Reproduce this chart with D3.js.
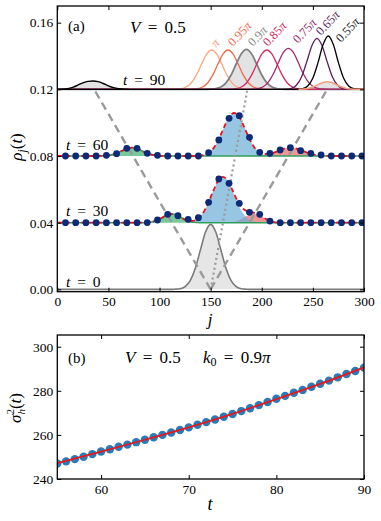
<!DOCTYPE html>
<html>
<head>
<meta charset="utf-8">
<script src="https://cdn.jsdelivr.net/npm/d3@7"></script>
<style>
body { margin: 0; background: #fff; }
text { font-family: "Liberation Serif", "DejaVu Serif", serif; }
</style>
</head>
<body>
<svg id="chart" width="381" height="521"></svg>
<script>
// ---- data: panel (a) ----
var rowTimes = [0, 30, 60, 90];
var rowOffsets = [0, 0.04, 0.08, 0.12];
var xTicksA = [0, 50, 100, 150, 200, 250, 300];
var yTicksA = [0, 0.04, 0.08, 0.12, 0.16];

// t = 0 initial packet
var packet0 = [[0,0],[110,0],[115,0.0001],[120,0.0004],[125,0.0017],[130,0.0053],[135,0.0127],[140,0.0237],[145,0.0344],[150,0.039],[155,0.0344],[160,0.0237],[165,0.0127],[170,0.0053],[175,0.0017],[180,0.0004],[185,0.0001],[190,0],[300,0]];

// t = 30 components (above offset)
var green30 = [[0,0],[82,0],[87,0.0001],[92,0.0004],[97,0.0013],[102,0.0028],[107,0.0045],[112,0.0052],[117,0.0045],[122,0.0028],[127,0.0013],[132,0.0004],[137,0.0001],[142,0],[300,0]];
var blue30 = [[127,0],[132,0.0007],[137,0.0021],[142,0.0053],[147,0.0109],[152,0.0182],[157,0.0248],[162,0.0275],[167,0.0248],[172,0.0182],[177,0.0109],[182,0.0053],[187,0.0021],[192,0.0007],[197,0]];
var red30 = [[162,0],[167,0.0001],[172,0.0004],[177,0.0013],[182,0.0029],[187,0.0045],[192,0.0053],[197,0.0045],[202,0.0029],[207,0.0013],[212,0.0004],[217,0.0001],[222,0]];
var total30 = [[0,0],[82,0],[87,0.0001],[92,0.0004],[97,0.0013],[102,0.0028],[107,0.0045],[112,0.0052],[117,0.0045],[122,0.0028],[127,0.0013],[132,0.0011],[137,0.0022],[142,0.0053],[147,0.0109],[152,0.0182],[157,0.0248],[162,0.0275],[167,0.0249],[172,0.0186],[177,0.0122],[182,0.0082],[187,0.0066],[192,0.006],[197,0.0045],[202,0.0029],[207,0.0013],[212,0.0004],[217,0.0001],[222,0],[300,0]];

// t = 60 components
var green60 = [[0,0],[38,0],[43,0.0001],[48,0.0002],[53,0.0007],[58,0.0016],[63,0.003],[68,0.0044],[73,0.005],[78,0.0044],[83,0.003],[88,0.0016],[93,0.0007],[98,0.0002],[103,0.0001],[108,0],[300,0]];
var blue60 = [[133,0],[138,0.0002],[143,0.0006],[148,0.002],[153,0.0049],[158,0.0102],[163,0.0171],[168,0.0233],[173,0.0258],[178,0.0233],[183,0.0171],[188,0.0102],[193,0.0049],[198,0.002],[203,0.0006],[208,0.0002],[213,0]];
var red60 = [[188,0],[193,0.0001],[198,0.0002],[203,0.0006],[208,0.0012],[213,0.0023],[218,0.0035],[223,0.0046],[228,0.005],[233,0.0046],[238,0.0035],[243,0.0023],[248,0.0012],[253,0.0006],[258,0.0002],[263,0.0001],[268,0]];
var total60 = [[0,0],[38,0],[43,0.0001],[48,0.0002],[53,0.0007],[58,0.0016],[63,0.003],[68,0.0044],[73,0.005],[78,0.0044],[83,0.003],[88,0.0016],[93,0.0007],[98,0.0002],[103,0.0001],[108,0],[133,0],[138,0.0002],[143,0.0006],[148,0.002],[153,0.0049],[158,0.0102],[163,0.0171],[168,0.0233],[173,0.0258],[178,0.0233],[183,0.0171],[188,0.0102],[193,0.005],[198,0.0022],[203,0.0012],[208,0.0014],[213,0.0023],[218,0.0035],[223,0.0046],[228,0.005],[233,0.0046],[238,0.0035],[243,0.0023],[248,0.0012],[253,0.0006],[258,0.0002],[263,0.0001],[268,0],[300,0]];

// sampled sites (dots)
var dotSites = [8,18,28,38,48,58,68,78,88,98,108,118,128,138,148,158,168,178,188,198,208,218,228,238,248,258,268,278,288,298];
var dots30 = [0,0,0,0,0,0,0,0,0.0001,0.0016,0.005,0.0042,0.002,0.003,0.0122,0.0262,0.0236,0.0116,0.0062,0.005,0.001,0,0,0,0,0,0,0,0,0];
var dots60 = [0,0,0,0,0.0004,0.0014,0.0046,0.0046,0.0016,0.0004,0,0,0,0,0.002,0.0096,0.0226,0.0242,0.0112,0.0022,0.0016,0.0036,0.005,0.0032,0.0016,0.0006,0,0,0,0];

// t = 90, one packet per k0
var kLabels = ["\u03c0", "0.95\u03c0", "0.9\u03c0", "0.85\u03c0", "0.75\u03c0", "0.65\u03c0", "0.55\u03c0"];
var kPi = [[0,0],[111,0],[116,0.0001],[121,0.0004],[126,0.0014],[131,0.0038],[136,0.0085],[141,0.015],[146,0.0211],[151,0.0236],[156,0.0211],[161,0.015],[166,0.0085],[171,0.0038],[176,0.0014],[181,0.0004],[186,0.0001],[191,0],[300,0]];
var k095 = [[0,0],[127,0],[132,0.0001],[137,0.0004],[142,0.0014],[147,0.0038],[152,0.0085],[157,0.015],[162,0.0211],[167,0.0236],[172,0.0211],[177,0.015],[182,0.0085],[187,0.0038],[192,0.0014],[197,0.0004],[202,0.0001],[207,0],[300,0]];
var k09 = [[0,0],[145,0],[150,0.0001],[155,0.0004],[160,0.0014],[165,0.0039],[170,0.0086],[175,0.0152],[180,0.0214],[185,0.024],[190,0.0214],[195,0.0152],[200,0.0086],[205,0.0039],[210,0.0014],[215,0.0004],[220,0.0001],[225,0],[300,0]];
var k085 = [[0,0],[165,0],[170,0.0001],[175,0.0004],[180,0.0014],[185,0.0038],[190,0.0085],[195,0.015],[200,0.0211],[205,0.0236],[210,0.0211],[215,0.015],[220,0.0085],[225,0.0038],[230,0.0014],[235,0.0004],[240,0.0001],[245,0],[300,0]];
var k075 = [[0,0],[186,0],[191,0.0001],[196,0.0004],[201,0.0014],[206,0.004],[211,0.0089],[216,0.0156],[221,0.022],[226,0.0246],[231,0.022],[236,0.0156],[241,0.0089],[246,0.004],[251,0.0014],[256,0.0004],[261,0.0001],[266,0],[300,0]];
var k065 = [[0,0],[219,0],[224,0.0001],[229,0.0006],[234,0.0026],[239,0.0076],[244,0.0165],[249,0.0262],[254,0.0306],[259,0.0262],[264,0.0165],[269,0.0076],[274,0.0026],[279,0.0006],[284,0.0001],[289,0],[300,0]];
var k055 = [[0,0],[230,0],[235,0.0001],[240,0.0004],[245,0.002],[250,0.0068],[255,0.016],[260,0.0269],[265,0.032],[270,0.0269],[275,0.016],[280,0.0068],[285,0.002],[290,0.0004],[295,0.0001],[300,0]];
var bumpLeft90 = [[0,0],[5,0.0001],[10,0.0004],[15,0.0012],[20,0.0025],[25,0.0039],[30,0.0048],[35,0.005],[40,0.0046],[45,0.0035],[50,0.0021],[55,0.001],[60,0.0004],[65,0.0001],[70,0]];
var bumpRight90 = [[236,0],[241,0.0002],[246,0.0007],[251,0.0017],[256,0.0031],[260,0.0041],[264,0.0046],[268,0.0041],[272,0.0031],[277,0.0017],[282,0.0007],[287,0.0002],[292,0],[300,0]];

// light cone and peak trajectory
var coneLeft = [[150,0],[36,0.12]];
var coneRight = [[150,0],[264,0.12]];
var peakPath = [[150,0],[186,0.12]];

// ---- data: panel (b) ----
var tVals = [55,56,57,58,59,60,61,62,63,64,65,66,67,68,69,70,71,72,73,74,75,76,77,78,79,80,81,82,83,84,85,86,87,88,89,90];
var sigma2 = [247.0,248.0,249.0,250.1,251.3,252.5,253.5,254.6,255.6,256.7,257.8,258.9,260.0,261.1,262.2,263.4,264.6,265.8,267.0,268.2,269.5,270.8,272.1,273.5,274.9,276.4,277.7,279.1,280.4,281.8,283.2,284.6,286.1,287.6,289.0,290.5];
var fitT = [55,60,65,70,75,80,85,90];
var fitS = [247.2,252.4,257.8,263.4,269.5,276.2,283.1,290.6];
var xTicksB = [60, 70, 80, 90];
var yTicksB = [240, 260, 280, 300];

// ---- styles ----
var kColors = ["#f9a883", "#f06a4c", "#808080", "#d62b5d", "#a0296e", "#5c1d5c", "#000000"];
var kLabelColors = ["#f59a78", "#f06a4c", "#8a8a8a", "#d62b5d", "#a0296e", "#5c1d5c", "#222222"];
var kLabelPos = [[216,48],[233,47],[253,47],[268,47],[298,44],[321,36],[341,43]];
var serif = '"Liberation Serif", "DejaVu Serif", serif';

var svg = d3.select("#chart");

var xA = d3.scaleLinear().domain([0, 300]).range([57.3, 364]);
var yA = d3.scaleLinear().domain([-0.0014, 0.170]).range([291.7, 6]);
var xB = d3.scaleLinear().domain([55, 90]).range([57.3, 364]);
var yB = d3.scaleLinear().domain([240, 305.3]).range([479, 335]);

function lineAt(off) {
  return d3.line().x(function(d) { return xA(d[0]); })
    .y(function(d) { return yA(d[1] + off); }).curve(d3.curveMonotoneX);
}

function areaAt(off) {
  return d3.area().x(function(d) { return xA(d[0]); })
    .y0(yA(off)).y1(function(d) { return yA(d[1] + off); }).curve(d3.curveMonotoneX);
}

// clip paths
var defs = svg.append("defs");
defs.append("clipPath").attr("id", "clipA").append("rect")
  .attr("x", 57.3).attr("y", 6).attr("width", 364 - 57.3).attr("height", 291.7 - 6);
defs.append("clipPath").attr("id", "clipB").append("rect")
  .attr("x", 57.3).attr("y", 335).attr("width", 364 - 57.3).attr("height", 479 - 335);

var gA = svg.append("g").attr("clip-path", "url(#clipA)");

// t = 0
gA.append("path").attr("d", areaAt(rowOffsets[0])(packet0)).attr("fill", "#e6e6e6");
gA.append("path").attr("d", lineAt(rowOffsets[0])(packet0))
  .attr("fill", "none").attr("stroke", "#7a7a7a").attr("stroke-width", 1.6);

// t = 30, 60 decomposed densities
function drawRow(off, green, blue, red) {
  gA.append("path").attr("d", areaAt(off)(red)).attr("fill", "#ee7a7a").attr("fill-opacity", 0.8);
  gA.append("path").attr("d", areaAt(off)(blue)).attr("fill", "#6baed6").attr("fill-opacity", 0.7);
  gA.append("path").attr("d", areaAt(off)(green)).attr("fill", "#5fbf8a").attr("fill-opacity", 0.85);
  gA.append("path").attr("d", lineAt(off)(green))
    .attr("fill", "none").attr("stroke", "#2e9e5b").attr("stroke-width", 1.6);
}
drawRow(rowOffsets[1], green30, blue30, red30);
drawRow(rowOffsets[2], green60, blue60, red60);

// t = 90
var off90 = rowOffsets[3];
[bumpLeft90, k09, bumpRight90].forEach(function(d) {
  gA.append("path").attr("d", areaAt(off90)(d)).attr("fill", "#e3e3e3");
});
[kPi, k095, k09, k085, k075, k065, k055].forEach(function(d, i) {
  gA.append("path").attr("d", lineAt(off90)(d))
    .attr("fill", "none").attr("stroke", kColors[i]).attr("stroke-width", i == 2 ? 1.8 : 1.3);
});
gA.append("path").attr("d", lineAt(off90)(bumpLeft90))
  .attr("fill", "none").attr("stroke", "#000").attr("stroke-width", 1.4);
gA.append("path").attr("d", lineAt(off90)(bumpRight90))
  .attr("fill", "none").attr("stroke", "#f4a07e").attr("stroke-width", 1.5);

// light cone + peak trajectory
var straight = d3.line().x(function(d) { return xA(d[0]); }).y(function(d) { return yA(d[1]); });
[coneLeft, coneRight].forEach(function(d) {
  gA.append("path").attr("d", straight(d)).attr("fill", "none")
    .attr("stroke", "#9a9a9a").attr("stroke-width", 2.4).attr("stroke-dasharray", "8,5");
});
gA.append("path").attr("d", straight(peakPath)).attr("fill", "none")
  .attr("stroke", "#9a9a9a").attr("stroke-width", 2.2).attr("stroke-dasharray", "2,3");

// totals + sampled dots
[[total30, dots30, rowOffsets[1]], [total60, dots60, rowOffsets[2]]].forEach(function(r) {
  gA.append("path").attr("d", lineAt(r[2])(r[0])).attr("fill", "none")
    .attr("stroke", "#e8141c").attr("stroke-width", 1.8).attr("stroke-dasharray", "5,3");
  gA.selectAll(null).data(r[1]).enter().append("circle")
    .attr("cx", function(d, i) { return xA(dotSites[i]); })
    .attr("cy", function(d) { return yA(d + r[2]); })
    .attr("r", 3.4).attr("fill", "#0b2a78");
});

// k0 labels
kLabels.forEach(function(s, i) {
  var p = kLabelPos[i];
  var t = svg.append("text").attr("transform", "translate(" + p[0] + "," + p[1] + ") rotate(-47)")
    .attr("font-size", 12.5).attr("fill", kLabelColors[i]);
  var num = s.replace("\u03c0", "");
  if (num) t.append("tspan").text(num);
  t.append("tspan").attr("font-style", "italic").text("\u03c0");
});

// ---- frames and axes ----
function addAxes(x, y, xTicks, yTicks, yFmt) {
  var g = svg.append("g");
  var x0 = x.range()[0], x1 = x.range()[1], y0 = y.range()[0], y1 = y.range()[1];
  g.append("g").attr("transform", "translate(0," + y0 + ")")
    .call(d3.axisBottom(x).tickValues(xTicks).tickSizeInner(-4).tickSizeOuter(0).tickPadding(5).tickFormat(d3.format("d")));
  g.append("g").attr("transform", "translate(0," + y1 + ")")
    .call(d3.axisTop(x).tickValues(xTicks).tickSizeInner(-4).tickSizeOuter(0).tickFormat(""));
  g.append("g").attr("transform", "translate(" + x0 + ",0)")
    .call(d3.axisLeft(y).tickValues(yTicks).tickSizeInner(-4).tickSizeOuter(0).tickPadding(4).tickFormat(yFmt));
  g.append("g").attr("transform", "translate(" + x1 + ",0)")
    .call(d3.axisRight(y).tickValues(yTicks).tickSizeInner(-4).tickSizeOuter(0).tickFormat(""));
  g.selectAll(".domain").remove();
  g.selectAll(".tick line").attr("stroke", "#000").attr("stroke-width", 1);
  g.selectAll("text").style("font-family", serif).style("font-size", "13.5px").attr("fill", "#000");
  g.append("rect").attr("x", x0).attr("y", y1).attr("width", x1 - x0).attr("height", y0 - y1)
    .attr("fill", "none").attr("stroke", "#000").attr("stroke-width", 1.3);
}
addAxes(xA, yA, xTicksA, yTicksA, d3.format(".2f"));

// row labels
var rowLabelPos = [[66, 286.5], [66, 216], [66, 149.5], [123, 85]];
rowTimes.forEach(function(t, i) {
  var tx = svg.append("text").attr("x", rowLabelPos[i][0]).attr("y", rowLabelPos[i][1])
    .attr("font-size", 15.5).attr("word-spacing", 3);
  tx.append("tspan").attr("font-style", "italic").text("t");
  tx.append("tspan").text(" = " + t);
});

svg.append("text").attr("x", 68).attr("y", 30.5).attr("font-size", 15).text("(a)");
var vA = svg.append("text").attr("x", 130).attr("y", 33.3).attr("font-size", 17).attr("word-spacing", 3);
vA.append("tspan").attr("font-style", "italic").text("V");
vA.append("tspan").text(" = 0.5");

// axis labels (a)
svg.append("text").attr("x", 210).attr("y", 325).attr("font-size", 17)
  .attr("font-style", "italic").attr("text-anchor", "middle").text("j");
var ly = svg.append("text").attr("transform", "translate(22,147) rotate(-90)")
  .attr("font-size", 17).attr("text-anchor", "middle");
ly.append("tspan").attr("font-style", "italic").text("\u03c1");
ly.append("tspan").attr("font-style", "italic").attr("font-size", 12).attr("dy", 4).text("j");
ly.append("tspan").attr("dy", -4).text("(");
ly.append("tspan").attr("font-style", "italic").text("t");
ly.append("tspan").text(")");

// ---- panel (b) ----
var gB = svg.append("g").attr("clip-path", "url(#clipB)");
gB.selectAll("circle").data(sigma2).enter().append("circle")
  .attr("cx", function(d, i) { return xB(tVals[i]); })
  .attr("cy", function(d) { return yB(d); })
  .attr("r", 4.2).attr("fill", "#2b7bba");
gB.append("path")
  .attr("d", d3.line().x(function(d, i) { return xB(fitT[i]); }).y(function(d) { return yB(d); })
    .curve(d3.curveMonotoneX)(fitS))
  .attr("fill", "none").attr("stroke", "#e31a1c").attr("stroke-width", 1.8);

addAxes(xB, yB, xTicksB, yTicksB, d3.format("d"));

svg.append("text").attr("x", 68).attr("y", 363).attr("font-size", 15).text("(b)");
var vB = svg.append("text").attr("x", 125).attr("y", 363).attr("font-size", 17).attr("word-spacing", 3);
vB.append("tspan").attr("font-style", "italic").text("V");
vB.append("tspan").text(" = 0.5");
var kB = svg.append("text").attr("x", 203).attr("y", 363).attr("font-size", 17).attr("word-spacing", 3);
kB.append("tspan").attr("font-style", "italic").text("k");
kB.append("tspan").attr("font-size", 12).attr("dy", 3).text("0");
kB.append("tspan").attr("dy", -3).text(" = 0.9");
kB.append("tspan").attr("font-style", "italic").text("\u03c0");

svg.append("text").attr("x", 210).attr("y", 510).attr("font-size", 18)
  .attr("font-style", "italic").attr("text-anchor", "middle").text("t");
var sy = svg.append("text").attr("transform", "translate(21,408) rotate(-90)")
  .attr("font-size", 17).attr("text-anchor", "middle");
sy.append("tspan").attr("font-style", "italic").text("\u03c3");
sy.append("tspan").attr("font-size", 11).attr("dy", -7).text("2");
sy.append("tspan").attr("font-size", 11).attr("font-style", "italic").attr("dx", -5.5).attr("dy", 11).text("h");
sy.append("tspan").attr("dy", -4).text("(");
sy.append("tspan").attr("font-style", "italic").text("t");
sy.append("tspan").text(")");
</script>
</body>
</html>
